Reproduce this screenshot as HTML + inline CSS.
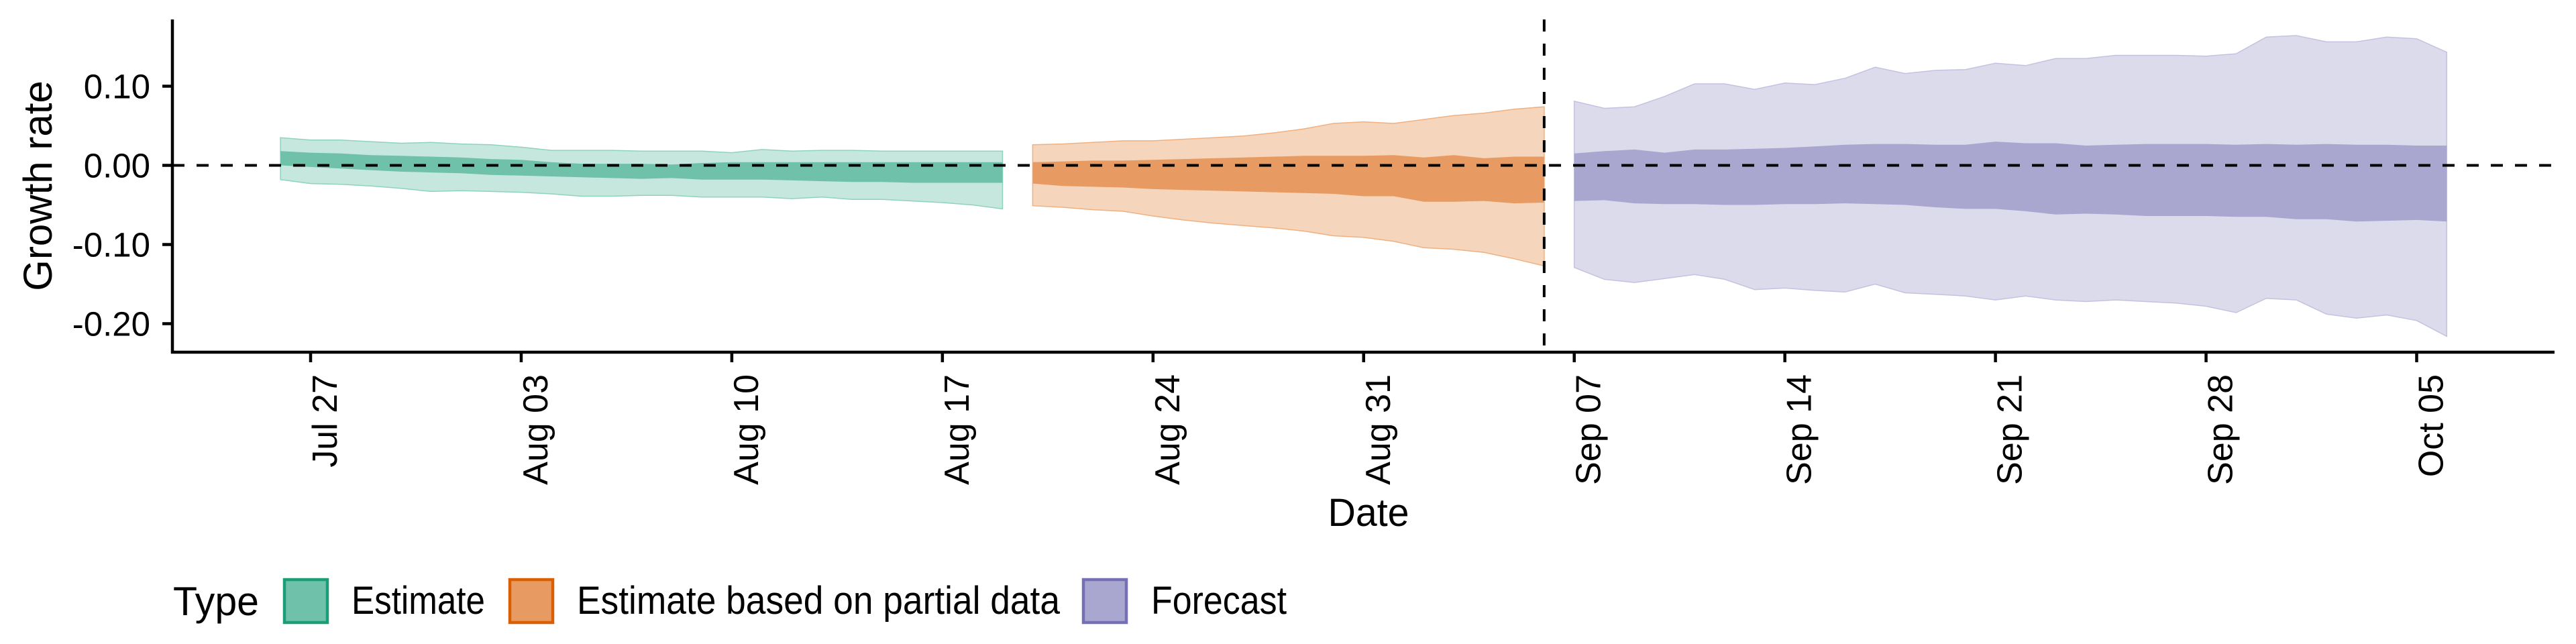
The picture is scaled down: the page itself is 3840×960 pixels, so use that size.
<!DOCTYPE html>
<html><head><meta charset="utf-8"><style>
html,body{margin:0;padding:0;background:#fff;}
svg{display:block;font-family:"Liberation Sans",Arial,sans-serif;}
</style></head><body>
<svg id="chart" width="3840" height="960" viewBox="0 0 3840 960" xmlns="http://www.w3.org/2000/svg">
<g id="ribbons"></g>
<g id="axes"></g>
<g id="legend"></g>
</svg>
<script>
// ---- data ----
const tickDays = [0, 7, 14, 21, 28, 35, 42, 49, 56, 63, 70];
const tickLabels = ["Jul 27","Aug 03","Aug 10","Aug 17","Aug 24","Aug 31","Sep 07","Sep 14","Sep 21","Sep 28","Oct 05"];
const yTicks = [0.10, 0.00, -0.10, -0.20];
const yTickLabels = ["0.10","0.00","-0.10","-0.20"];

const estStart = -1;
const estUpper90 = [.035,.032,.032,.030,.028,.029,.027,.026,.023,.019,.019,.019,.018,.018,.018,.016,.020,.018,.019,.019,.018,.018,.018,.018,.018];
const estLower90 = [-.018,-.023,-.024,-.026,-.029,-.033,-.032,-.033,-.034,-.036,-.039,-.039,-.038,-.038,-.040,-.040,-.040,-.042,-.040,-.043,-.043,-.045,-.047,-.050,-.055];
const estUpper50 = [.018,.016,.015,.013,.012,.011,.010,.008,.007,.004,.002,.002,.002,.001,.003,.004,.004,.004,.004,.004,.004,.004,.004,.004,.004];
const estLower50 = [.000,-.002,-.004,-.006,-.008,-.009,-.010,-.012,-.013,-.014,-.015,-.016,-.017,-.016,-.018,-.018,-.018,-.019,-.020,-.021,-.021,-.022,-.022,-.022,-.022];

const partStart = 24;
const partUpper90 = [.026,.027,.029,.031,.031,.033,.035,.037,.041,.046,.053,.055,.053,.058,.063,.066,.071,.074];
const partLower90 = [-.051,-.053,-.056,-.058,-.064,-.069,-.073,-.076,-.079,-.083,-.089,-.091,-.096,-.104,-.106,-.110,-.118,-.127];
const partUpper50 = [.004,.005,.006,.006,.007,.008,.009,.010,.011,.012,.012,.012,.013,.010,.013,.009,.011,.011];
const partLower50 = [-.023,-.026,-.027,-.028,-.030,-.031,-.032,-.033,-.034,-.035,-.036,-.039,-.039,-.046,-.046,-.045,-.048,-.047];

const fcStart = 42;
const fcUpper90 = [.081,.072,.074,.087,.103,.103,.096,.104,.102,.110,.124,.116,.120,.121,.129,.126,.135,.135,.139,.139,.139,.138,.141,.162,.164,.156,.156,.162,.160,.143];
const fcLower90 = [-.129,-.144,-.148,-.143,-.138,-.144,-.157,-.155,-.158,-.160,-.150,-.161,-.163,-.165,-.170,-.165,-.170,-.172,-.170,-.172,-.174,-.178,-.186,-.168,-.170,-.188,-.193,-.189,-.196,-.216];
const fcUpper50 = [.015,.018,.020,.016,.020,.020,.021,.022,.024,.026,.027,.027,.026,.026,.030,.028,.028,.025,.026,.027,.027,.027,.026,.027,.026,.027,.026,.026,.025,.025];
const fcLower50 = [-.045,-.044,-.048,-.049,-.049,-.050,-.050,-.049,-.049,-.048,-.049,-.050,-.053,-.055,-.055,-.058,-.062,-.061,-.062,-.064,-.064,-.064,-.065,-.065,-.068,-.068,-.071,-.070,-.069,-.071];

const forecastCutDay = 41;

// ---- scales ----
const NS = "http://www.w3.org/2000/svg";
const x = d => 463 + d * 44.85;
const y = v => 246.5 - v * 1180;
const AX_L = 257, AX_R = 3808, AX_T = 29, AX_B = 525;

function mk(tag, attrs, parent) {
  const el = document.createElementNS(NS, tag);
  for (const k in attrs) el.setAttribute(k, attrs[k]);
  parent.appendChild(el);
  return el;
}
function band(start, up, lo) {
  let pts = [];
  for (let i = 0; i < up.length; i++) pts.push(x(start + i).toFixed(1) + "," + y(up[i]).toFixed(1));
  for (let i = lo.length - 1; i >= 0; i--) pts.push(x(start + i).toFixed(1) + "," + y(lo[i]).toFixed(1));
  return pts.join(" ");
}

const rib = document.getElementById("ribbons");
const series = [
  ["estimate", estStart, estUpper90, estLower90, estUpper50, estLower50, "#c6e7dd", "#6fc1a9", "#8fd3bf"],
  ["partial", partStart, partUpper90, partLower90, partUpper50, partLower50, "#f5d6bc", "#e79b62", "#f0b080"],
  ["forecast", fcStart, fcUpper90, fcLower90, fcUpper50, fcLower50, "#dcdbeb", "#a9a6d0", "#c4c2e0"]
];
for (const s of series) {
  const outer = mk("polygon", {points: band(s[1], s[2], s[3]), fill: s[6], stroke: s[8], "stroke-width": 1.5}, rib);
  
  
  const inner = mk("polygon", {points: band(s[1], s[4], s[5]), fill: s[7]}, rib);
  
  
}

const ax = document.getElementById("axes");
const zl = mk("line", {x1: AX_L, x2: AX_R, y1: y(0), y2: y(0), stroke: "#000", "stroke-width": 4, "stroke-dasharray": "18 18"}, ax);


const vl = mk("line", {x1: x(forecastCutDay), x2: x(forecastCutDay), y1: AX_T, y2: AX_B, stroke: "#000", "stroke-width": 4, "stroke-dasharray": "18 18"}, ax);



const yl = mk("line", {x1: AX_L, x2: AX_L, y1: AX_T, y2: AX_B + 2, stroke: "#000", "stroke-width": 4.5}, ax);


const xl = mk("line", {x1: AX_L - 2, x2: AX_R, y1: AX_B, y2: AX_B, stroke: "#000", "stroke-width": 4.5}, ax);



yTicks.forEach((v, i) => {
  const t = mk("line", {x1: AX_L - 15, x2: AX_L, y1: y(v), y2: y(v), stroke: "#000", "stroke-width": 4.5}, ax);
  
  
  const l = mk("text", {x: 224, y: y(v) + 18, "text-anchor": "end", "font-size": 51, fill: "#000"}, ax);
  l.textContent = yTickLabels[i];
  
  
});
tickDays.forEach((d, i) => {
  const t = mk("line", {x1: x(d), x2: x(d), y1: AX_B, y2: AX_B + 15, stroke: "#000", "stroke-width": 4.5}, ax);
  
  
  const bx = x(d) + 39, by = 558;
  const l = mk("text", {x: bx, y: by, "text-anchor": "end", "font-size": 52, fill: "#000", transform: "rotate(-90 " + bx + " " + by + ")"}, ax);
  l.textContent = tickLabels[i];
  
  
});

const yt = mk("text", {x: 77, y: 277, "text-anchor": "middle", "font-size": 60, fill: "#000", transform: "rotate(-90 77 277)"}, ax);
yt.textContent = "Growth rate";


const xt = mk("text", {x: 2040, y: 784, "text-anchor": "middle", "font-size": 58, fill: "#000", textLength: 121, lengthAdjust: "spacingAndGlyphs"}, ax);
xt.textContent = "Date";



// ---- legend ----
const lg = document.getElementById("legend");
const lt = mk("text", {x: 258, y: 917, "font-size": 60, fill: "#000", textLength: 128, lengthAdjust: "spacingAndGlyphs"}, lg);
lt.textContent = "Type";


const legendLabels = ["Estimate", "Estimate based on partial data", "Forecast"];
const legendKeyX = [424, 760, 1615];
const legendTextX = [524, 860, 1716];
const legendTextW = [199, 720, 202];
const legendFill = ["#6fc1a9", "#e79b62", "#a9a6d0"];
const legendStroke = ["#1b9e77", "#d95f02", "#7570b3"];
legendLabels.forEach((lab, i) => {
  const k = mk("rect", {x: legendKeyX[i], y: 864, width: 64, height: 64, fill: legendFill[i], stroke: legendStroke[i], "stroke-width": 4.5}, lg);
  
  
  const t = mk("text", {x: legendTextX[i], y: 915, "font-size": 58, fill: "#000", textLength: legendTextW[i], lengthAdjust: "spacingAndGlyphs"}, lg);
  t.textContent = lab;
  
  
});
</script>
</body></html>
